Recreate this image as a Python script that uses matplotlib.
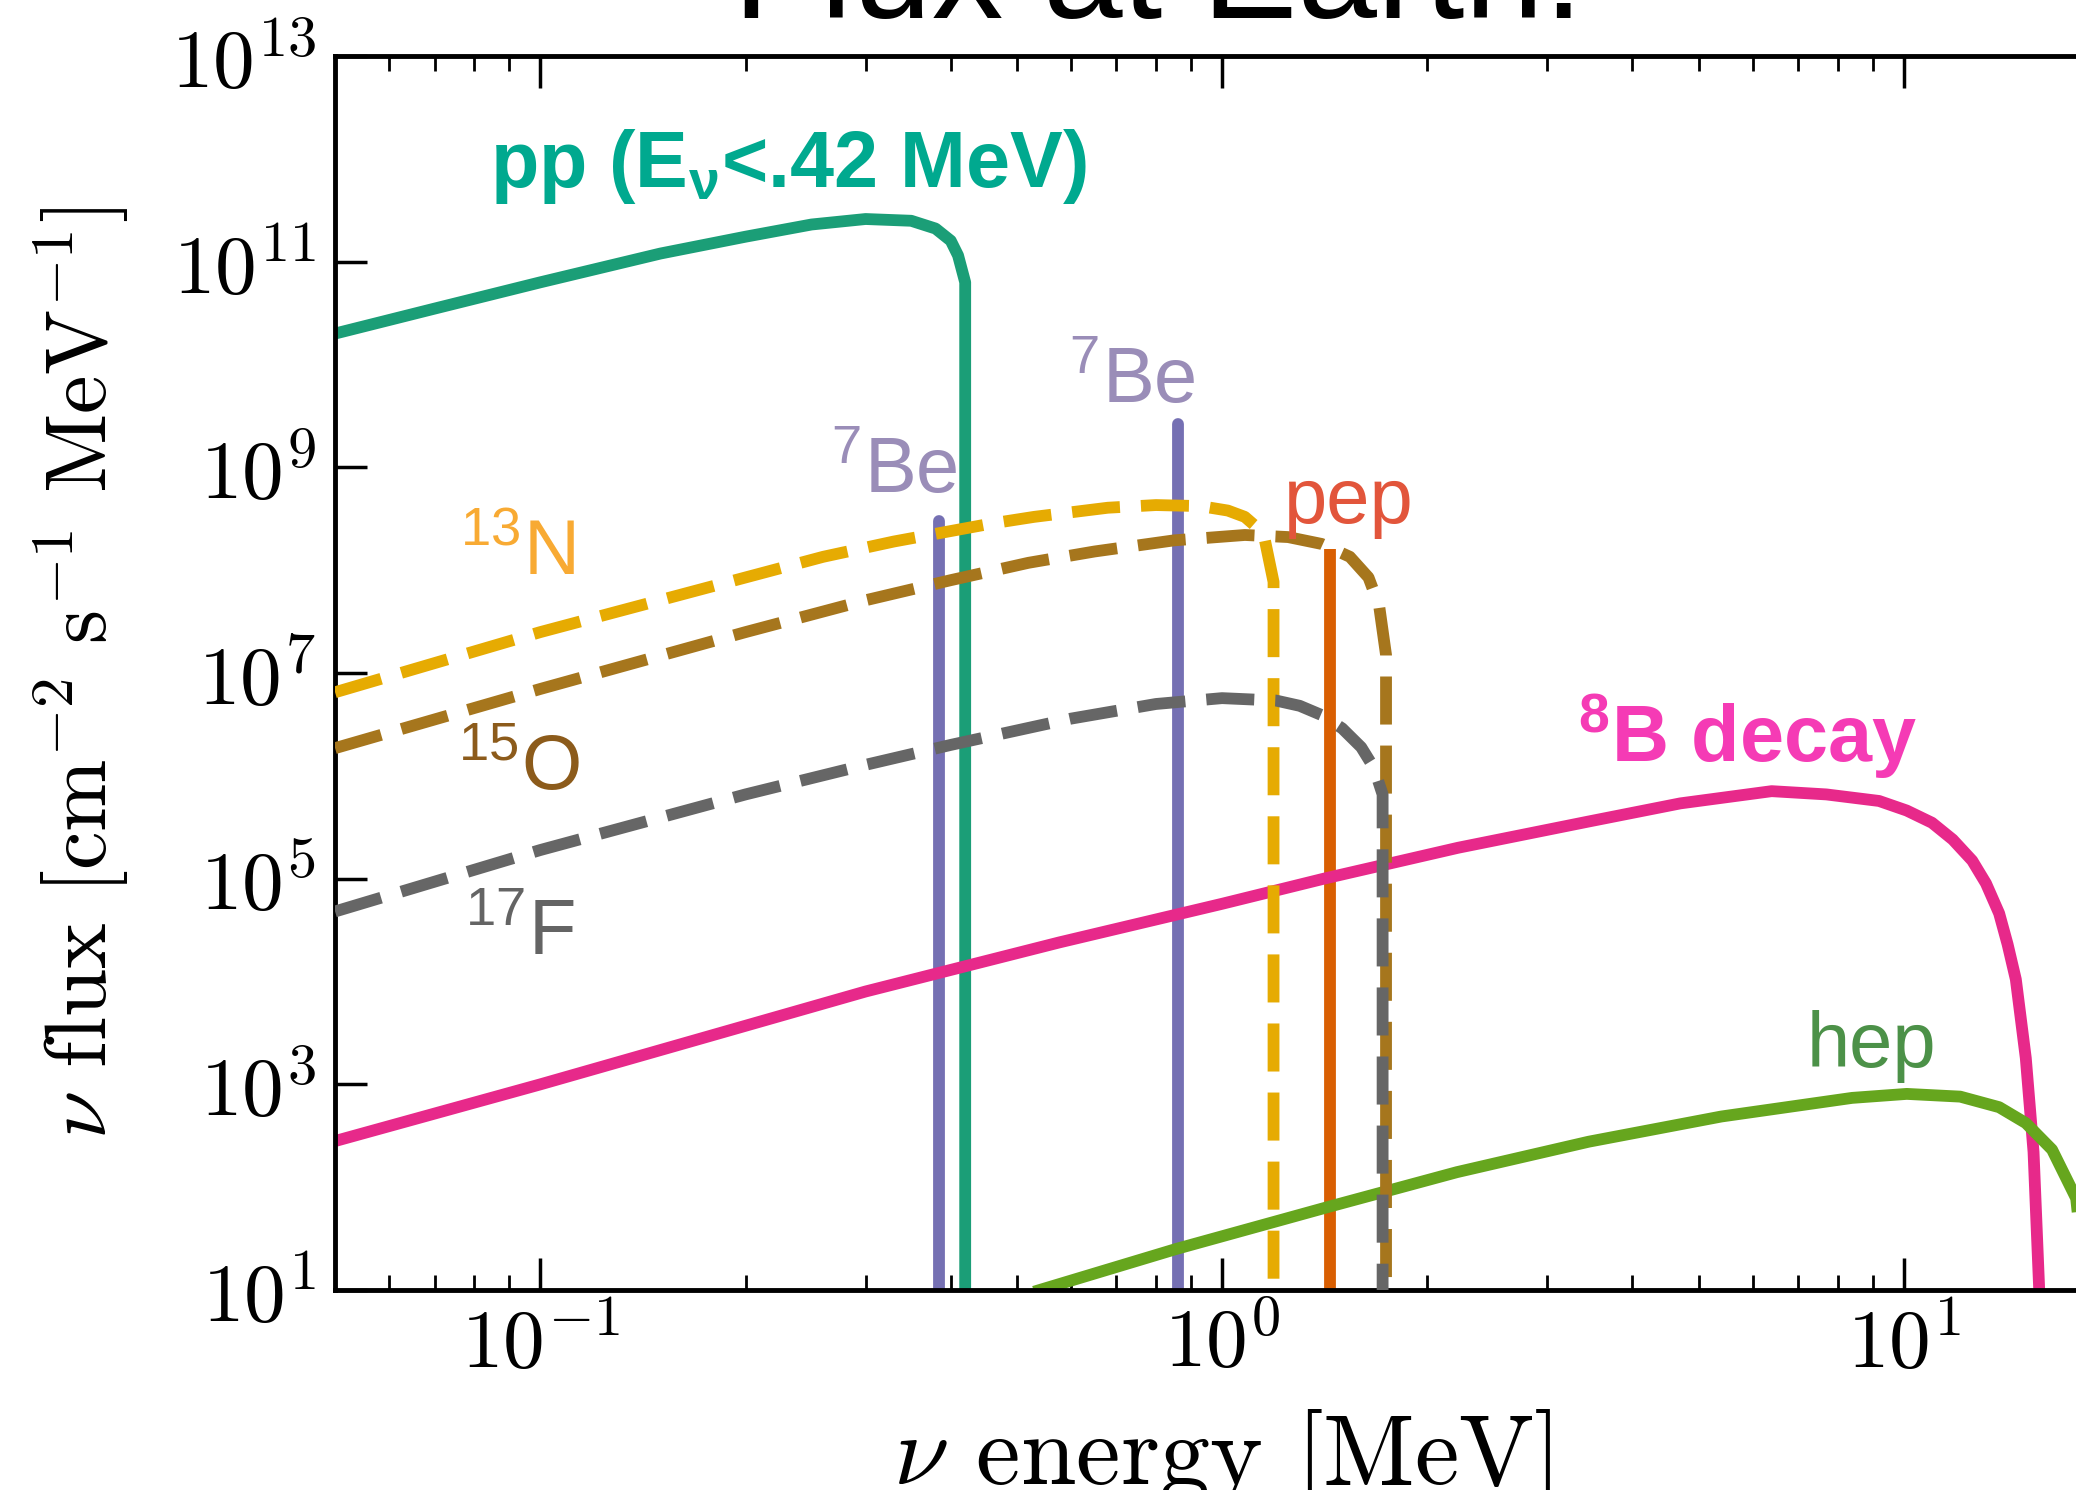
import matplotlib

matplotlib.use("Agg")
import matplotlib.pyplot as plt
from matplotlib.ticker import NullFormatter, NullLocator

# Solar neutrino spectra at Earth, energies in MeV, fluxes in cm^-2 s^-1 MeV^-1
PP_ENERGY = [0.05, 0.07, 0.1, 0.15, 0.2, 0.25, 0.3, 0.35, 0.38, 0.40, 0.41, 0.415, 0.42]
PP_FLUX = [2.0e10, 3.5e10, 6.3e10, 1.2e11, 1.75e11, 2.3e11, 2.6e11, 2.5e11, 2.1e11, 1.6e11, 1.15e11, 8.5e10, 6.3e10]

N13_ENERGY = [0.05, 0.1, 0.2, 0.26, 0.33, 0.46, 0.53, 0.68, 0.8, 0.93, 1.02, 1.08, 1.15, 1.19]
N13_FLUX = [6.5e6, 2.5e7, 8.5e7, 1.35e8, 1.9e8, 2.85e8, 3.3e8, 4.05e8, 4.3e8, 4.2e8, 3.8e8, 3.3e8, 2.3e8, 7.7e7]

O15_ENERGY = [0.05, 0.1, 0.2, 0.3, 0.4, 0.52, 0.65, 0.85, 1.08, 1.25, 1.4, 1.54, 1.64, 1.7, 1.74]
O15_FLUX = [1.86e6, 7.0e6, 2.5e7, 5.1e7, 8.0e7, 1.18e8, 1.52e8, 1.95e8, 2.2e8, 2.1e8, 1.8e8, 1.35e8, 8.5e7, 4.5e7, 1.5e7]

F17_ENERGY = [0.05, 0.1, 0.2, 0.3, 0.4, 0.6, 0.8, 1.0, 1.2, 1.3, 1.4, 1.5, 1.6, 1.67, 1.72]
F17_FLUX = [4.8e4, 1.9e5, 6.6e5, 1.28e6, 2.0e6, 3.6e6, 5.0e6, 5.7e6, 5.4e6, 4.8e6, 3.9e6, 2.9e6, 1.9e6, 1.2e6, 6.6e5]

B8_ENERGY = [0.05, 0.1, 0.3, 0.577, 1.0, 1.41, 2.22, 3.45, 4.7, 6.4, 7.7, 9.2, 10.1, 11.0, 11.8, 12.6, 13.2,
             13.8, 14.2, 14.6, 15.1, 15.5, 15.8]
B8_FLUX = [281, 1.0e3, 8.0e3, 2.4e4, 5.7e4, 1.0e5, 2.0e5, 3.6e5, 5.4e5, 7.1e5, 6.6e5, 5.7e5, 4.6e5, 3.5e5,
           2.4e5, 1.5e5, 9.0e4, 4.6e4, 2.3e4, 1.05e4, 1.8e3, 220, 10]

HEP_ENERGY = [0.54, 0.855, 1.44, 2.21, 3.45, 5.4, 8.4, 10.1, 12.1, 13.8, 15.1, 16.5, 17.9, 18.5]
HEP_FLUX = [10, 25, 65, 140, 277, 487, 739, 808, 760, 600, 421, 232, 78, 10]

# mono-energetic lines
BE7_ENERGY = [0.384, 0.862]
BE7_FLUX = [3.0e8, 2.65e9]
PEP_ENERGY = [1.44]
PEP_FLUX = [1.6e8]

X_TICKS = [0.1, 1.0, 10.0]
X_TICK_LABELS = [r"$10^{-1}$", r"$10^{0}$", r"$10^{1}$"]
Y_TICKS = [1e1, 1e3, 1e5, 1e7, 1e9, 1e11, 1e13]
Y_TICK_LABELS = [r"$10^{1}$", r"$10^{3}$", r"$10^{5}$", r"$10^{7}$", r"$10^{9}$", r"$10^{11}$", r"$10^{13}$"]

# spectra fall to zero at their endpoints; draw the drop down past the axis
FLUX_FLOOR = 1.0

LINE_WIDTH = 8.5
DASHES = (4.07, 1.78)

SANS = "Liberation Sans"
SERIF = "cmr10"


def spectrum(ax, energy, flux, color, dashed=False, zorder=2):
    xs = list(energy) + [energy[-1]]
    ys = list(flux) + [FLUX_FLOOR]
    (line,) = ax.plot(xs, ys, color=color, lw=LINE_WIDTH, zorder=zorder,
                      solid_joinstyle="round", dash_joinstyle="round")
    if dashed:
        line.set_dashes(DASHES)
        line.set_dash_capstyle("butt")
    return line


def spike(ax, energy, flux, color, capstyle="round", zorder=2):
    for e, f in zip(energy, flux):
        ax.plot([e, e], [f, FLUX_FLOOR], color=color, lw=LINE_WIDTH,
                solid_capstyle=capstyle, zorder=zorder)


def label(ax, x, y, text, color, size=56, weight="normal"):
    ax.text(x, y, text, color=color, fontsize=size, fontweight=weight,
            family=SANS, math_fontfamily="custom", ha="left", va="baseline",
            zorder=5)


def main() -> int:
    plt.rcParams["mathtext.fontset"] = "cm"
    plt.rcParams["mathtext.rm"] = SANS
    plt.rcParams["mathtext.it"] = SANS + ":italic"
    plt.rcParams["mathtext.bf"] = SANS + ":bold"
    plt.rcParams["axes.unicode_minus"] = False

    fig = plt.figure(figsize=(20.76, 14.90), dpi=100)
    ax = fig.add_axes([0.1614, 0.1342, 0.8545, 0.8282])

    spectrum(ax, PP_ENERGY, PP_FLUX, "#1b9e77")
    spike(ax, BE7_ENERGY, BE7_FLUX, "#7570b3")
    spike(ax, PEP_ENERGY, PEP_FLUX, "#d95f02", capstyle="butt")
    spectrum(ax, B8_ENERGY, B8_FLUX, "#e7298a")
    spectrum(ax, HEP_ENERGY, HEP_FLUX, "#66a61e")
    spectrum(ax, N13_ENERGY, N13_FLUX, "#e6ab02", dashed=True, zorder=3)
    spectrum(ax, O15_ENERGY, O15_FLUX, "#a6761d", dashed=True, zorder=3)
    spectrum(ax, F17_ENERGY, F17_FLUX, "#666666", dashed=True, zorder=3)

    label(ax, 0.0845, 5.3e11, r"pp (E$_{\mathbf{\nu}}$<.42 MeV)", "#00a98f", size=57, weight="bold")
    label(ax, 0.267, 5.6e8, r"$^{7}$Be", "#9a8db8")
    label(ax, 0.597, 4.2e9, r"$^{7}$Be", "#9a8db8")
    label(ax, 1.233, 2.9e8, "pep", "#e2553b")
    label(ax, 0.0763, 9.0e7, r"$^{13}$N", "#f8aa33")
    label(ax, 0.0758, 7.3e5, r"$^{15}$O", "#8c5b1b")
    label(ax, 0.0776, 1.8e4, r"$^{17}$F", "#646464")
    label(ax, 3.33, 1.36e6, r"$^{\mathbf{8}}$B decay", "#f53bb5", size=57, weight="bold")
    label(ax, 7.21, 1.47e3, "hep", "#4c9148")

    ax.set_xscale("log")
    ax.set_yscale("log")
    ax.set_xlim(0.05, 20)
    ax.set_ylim(1e1, 1e13)

    ax.set_xticks(X_TICKS, X_TICK_LABELS, fontsize=60)
    ax.set_yticks(Y_TICKS, Y_TICK_LABELS, fontsize=60)
    ax.xaxis.set_minor_formatter(NullFormatter())
    ax.yaxis.set_minor_locator(NullLocator())
    ax.tick_params(which="both", direction="in", top=True, right=True)
    ax.tick_params(which="major", length=23, width=2.5)
    ax.tick_params(which="minor", length=11, width=2.0)
    ax.tick_params(axis="x", pad=10)
    ax.tick_params(axis="y", pad=14)
    for spine in ax.spines.values():
        spine.set_linewidth(3.5)

    ax.set_xlabel(r"$\nu$ energy [MeV]", fontsize=72, family=SERIF)
    ax.set_ylabel(r"$\nu$ flux [cm$^{-2}$ s$^{-1}$ MeV$^{-1}$]", fontsize=62.5, family=SERIF)
    ax.xaxis.set_label_coords(0.5, -0.095)
    ax.yaxis.set_label_coords(-0.115, 0.5)

    fig.text(0.558, 0.988, "Flux at Earth.", fontsize=103, family=SANS,
             ha="center", va="baseline")

    fig.savefig("out.png", dpi=100)
    plt.close(fig)
    return 0


if __name__ == "__main__":
    raise SystemExit(main())
